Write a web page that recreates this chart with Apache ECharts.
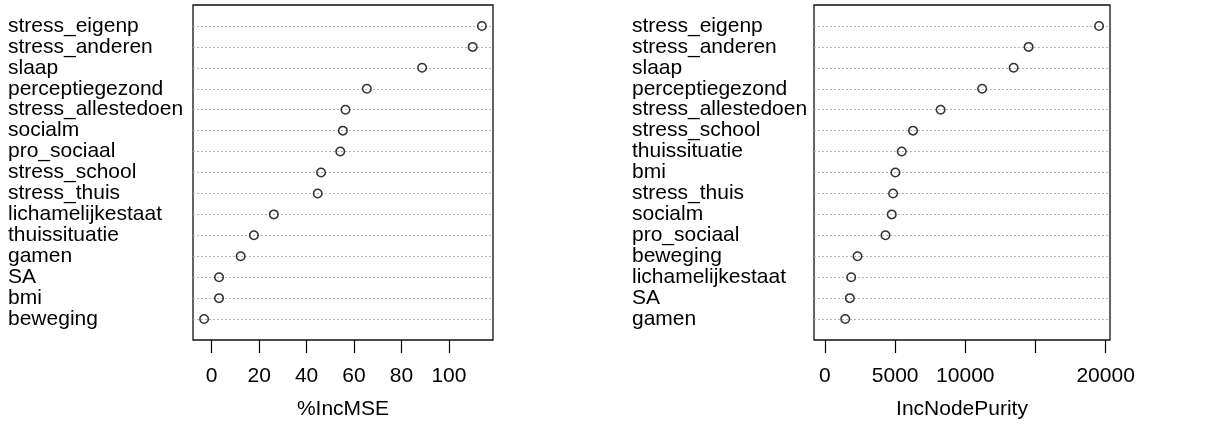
<!DOCTYPE html>
<html>
<head>
<meta charset="utf-8">
<script src="https://cdn.jsdelivr.net/npm/echarts@6/dist/echarts.min.js"></script>
<style>
html,body{margin:0;padding:0;background:#fff;}
#chart{width:1228px;height:426px;}
</style>
</head>
<body>
<div id="chart"></div>
<script>
//%IncMSE panel, top to bottom
var mseNames = ['stress_eigenp','stress_anderen','slaap','perceptiegezond','stress_allestedoen','socialm','pro_sociaal','stress_school','stress_thuis','lichamelijkestaat','thuissituatie','gamen','SA','bmi','beweging'];
var mseValues = [113.9,110.0,88.7,65.4,56.4,55.3,54.2,46.1,44.7,26.2,17.8,12.2,3.1,3.1,-3.2];
var mseTicks = [0,20,40,60,80,100];

//IncNodePurity panel, top to bottom
var purityNames = ['stress_eigenp','stress_anderen','slaap','perceptiegezond','stress_allestedoen','stress_school','thuissituatie','bmi','stress_thuis','socialm','pro_sociaal','beweging','lichamelijkestaat','SA','gamen'];
var purityValues = [19530,14510,13445,11200,8240,6275,5470,5020,4855,4760,4310,2320,1870,1775,1445];
var purityTicks = [0,5000,10000,15000,20000];
var purityTickLabels = [0,5000,10000,20000];

var FONT = '"Liberation Sans", Arial, sans-serif';

//R style range: 4% padding each side
function rRange(lo, hi){
	var d = (hi - lo) * 0.04;
	return [lo - d, hi + d];
}
var mseRange = rRange(Math.min.apply(null, mseValues), Math.max.apply(null, mseValues));
var purityRange = rRange(0, Math.max.apply(null, purityValues));

function catData(names){
	return [''].concat(names).concat(['']);
}

function pairs(names, values){
	var out = [];
	for(var i=0;i<names.length;i++){
		out.push([values[i], names[i]]);
	}
	return out;
}

function xAxisDef(gi, range, ticks, labels, title){
	return {
		type: 'value',
		gridIndex: gi,
		min: range[0],
		max: range[1],
		name: title,
		nameLocation: 'middle',
		nameGap: 59,
		nameTextStyle: {color:'#000', fontSize:21, fontFamily:FONT, verticalAlign:'top'},
		axisLine: {show:false},
		splitLine: {show:false},
		axisTick: {show:true, length:13, customValues: ticks, lineStyle:{color:'#000', width:1.2}},
		axisLabel: {
			customValues: labels, color:'#000', fontSize:21, fontFamily:FONT, margin:26,
			formatter: function(v){ return String(v); }
		}
	};
}

function yAxisDef(gi, names, margin){
	return {
		type: 'category',
		gridIndex: gi,
		inverse: true,
		boundaryGap: false,
		data: catData(names),
		axisLine: {show:false},
		axisTick: {show:false},
		axisLabel: {align:'left', margin: margin, color:'#000', fontSize:21, fontFamily:FONT, interval:0},
		splitLine: {
			show: true,
			interval: function(idx, val){ return val !== ''; },
			lineStyle: {type:[2,2], color:'#b4b4b4', width:1}
		}
	};
}

var myChart = echarts.init(document.getElementById('chart'), null, {renderer:'canvas'});
var option = {
	backgroundColor: '#fff',
	animation: false,
	grid: [
		{left:193, top:5, width:300, height:335, show:true, borderColor:'#111', borderWidth:1.3, backgroundColor:'transparent'},
		{left:814, top:5, width:296, height:335, show:true, borderColor:'#111', borderWidth:1.3, backgroundColor:'transparent'}
	],
	xAxis: [
		xAxisDef(0, mseRange, mseTicks, mseTicks, '%IncMSE'),
		xAxisDef(1, purityRange, purityTicks, purityTickLabels, 'IncNodePurity')
	],
	yAxis: [
		yAxisDef(0, mseNames, 185),
		yAxisDef(1, purityNames, 182)
	],
	series: [
		{
			type:'scatter', xAxisIndex:0, yAxisIndex:0,
			data: pairs(mseNames, mseValues),
			symbol:'circle', symbolSize:8.5,
			itemStyle:{color:'rgba(0,0,0,0)', borderColor:'#000', borderWidth:1.5}
		},
		{
			type:'scatter', xAxisIndex:1, yAxisIndex:1,
			data: pairs(purityNames, purityValues),
			symbol:'circle', symbolSize:8.5,
			itemStyle:{color:'rgba(0,0,0,0)', borderColor:'#000', borderWidth:1.5}
		}
	]
};
myChart.setOption(option);
</script>
</body>
</html>
